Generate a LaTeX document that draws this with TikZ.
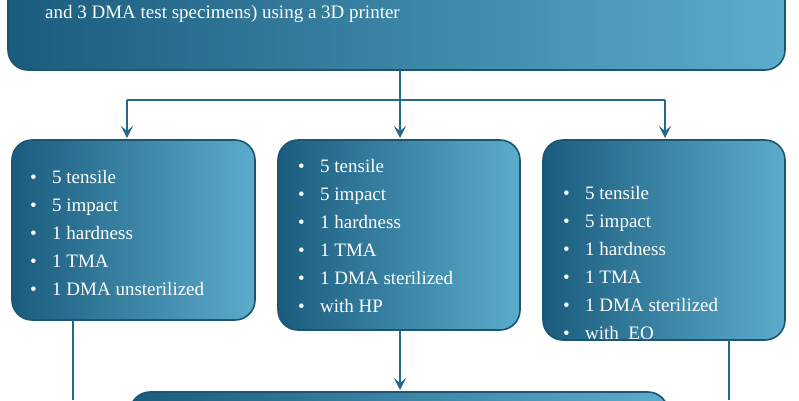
\documentclass[tikz,border=0pt]{standalone}
\usepackage{fontspec}
\setmainfont{Liberation Serif}
\usetikzlibrary{arrows.meta}
\definecolor{boxdark}{HTML}{1A5C7E}
\definecolor{boxlight}{HTML}{5CACCB}
\definecolor{boxedge}{HTML}{1B5572}
\definecolor{wire}{HTML}{27688A}
\tikzset{
  panel/.style={draw=boxedge, line width=1.6pt, rounded corners=20pt,
    left color=boxdark, right color=boxlight},
  items/.style={anchor=north west, align=left, text=white, inner sep=0pt,
    font=\fontsize{19}{28}\selectfont},
  wire/.style={draw=wire, line width=1.4pt},
  tip/.style={wire, -{Stealth[length=12pt, width=12pt, inset=5pt]}}
}
\newcommand{\itm}[1]{\makebox[22pt][l]{\textbullet}#1}
\begin{document}
\begin{tikzpicture}[x=1pt, y=-1pt]
  \useasboundingbox (0,0) rectangle (799,400);
  \clip (0,0) rectangle (799,400);

  % top panel
  \draw[panel] (8,-60) rectangle (785,70);
  \node[items, anchor=base west] (title) at (45,18) {and 3 DMA test specimens) using a 3D printer};

  % three groups
  \draw[panel] (12,140) rectangle (255,320);
  \draw[panel] (278,140) rectangle (520,330);
  \draw[panel] (543,140) rectangle (785,340);
  \node[items] (left) at (30,170) {\itm{5 tensile}\\ \itm{5 impact}\\ \itm{1 hardness}\\ \itm{1 TMA}\\ \itm{1 DMA unsterilized}};
  \node[items] (mid) at (298,159) {\itm{5 tensile}\\ \itm{5 impact}\\ \itm{1 hardness}\\ \itm{1 TMA}\\ \itm{1 DMA sterilized}\\ \itm{with HP}};
  \node[items] (right) at (563,186) {\itm{5 tensile}\\ \itm{5 impact}\\ \itm{1 hardness}\\ \itm{1 TMA}\\ \itm{1 DMA sterilized}\\ \itm{with\ \ EO}};
  \node[items] (rightb) at (563,159) {};

  % bottom panel
  \draw[panel] (130,392) rectangle (668,470);

  % connectors
  \coordinate (split) at (400,100);
  \draw[wire] (400,70) -- (split);
  \draw[wire] (127,100) -- (665,100);
  \draw[tip] (127,100) -- (127,138);
  \draw[tip] (400,100) -- (400,138);
  \draw[tip] (665,100) -- (665,138);
  \draw[tip] (400,330) -- (400,390);
  \draw[wire] (73,320) -- (73,400);
  \draw[wire] (729,340) -- (729,400);
\end{tikzpicture}
\end{document}
